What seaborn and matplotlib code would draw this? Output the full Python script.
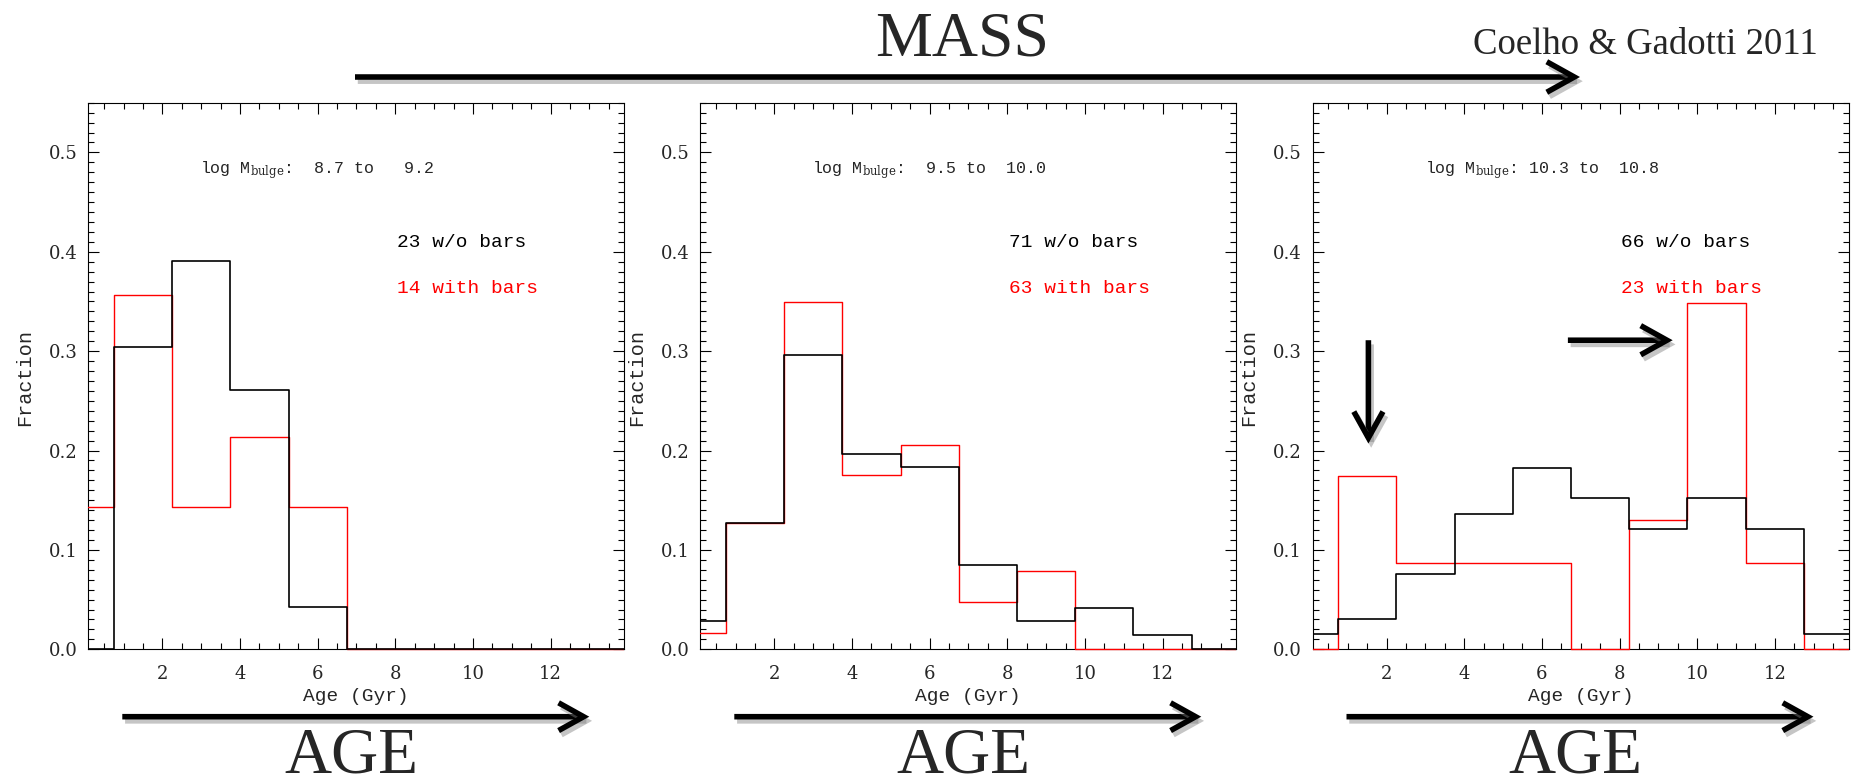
import numpy as np
import pandas as pd
import matplotlib
matplotlib.use("Agg")
import matplotlib.pyplot as plt
import matplotlib.patheffects as pe
from matplotlib.patches import FancyArrowPatch, ArrowStyle
from matplotlib.transforms import Bbox, TransformedBbox
from matplotlib.ticker import MultipleLocator, FormatStrFormatter
import seaborn as sns

# bin centres of the age histograms (Gyr), bin width 1.5
age_bins = [0.0, 1.5, 3.0, 4.5, 6.0, 7.5, 9.0, 10.5, 12.0, 13.5]

# fraction per age bin: bulges w/o bars (black) and with bars (red)
low_nobar = [0.0, 0.304, 0.391, 0.261, 0.043, 0.0, 0.0, 0.0, 0.0, 0.0]
low_bar = [0.143, 0.357, 0.143, 0.214, 0.143, 0.0, 0.0, 0.0, 0.0, 0.0]
mid_nobar = [0.028, 0.127, 0.296, 0.197, 0.183, 0.085, 0.028, 0.042, 0.014, 0.0]
mid_bar = [0.016, 0.127, 0.349, 0.175, 0.206, 0.048, 0.079, 0.0, 0.0, 0.0]
high_nobar = [0.015, 0.030, 0.076, 0.136, 0.182, 0.152, 0.121, 0.152, 0.121, 0.015]
high_bar = [0.0, 0.174, 0.087, 0.087, 0.087, 0.0, 0.130, 0.348, 0.087, 0.0]

# log bulge mass range of each panel and sample sizes
mass_lo = [8.7, 9.5, 10.3]
mass_hi = [9.2, 10.0, 10.8]
n_nobar = [23, 71, 66]
n_bar = [14, 63, 23]

nobar_fracs = [low_nobar, mid_nobar, high_nobar]
bar_fracs = [low_bar, mid_bar, high_bar]

sns.set_style("ticks")
plt.rcParams["font.family"] = ["DejaVu Serif"]
plt.rcParams["mathtext.fontset"] = "dejavuserif"

W, H = 1855, 779
fig = plt.figure(figsize=(W / 100, H / 100), dpi=100)

half = 0.75
edges = [c - half for c in age_bins] + [age_bins[-1] + half]

panel_left = [88.3, 700.3, 1312.5]  # pixel positions of the panel frames
ax_bottom, ax_h, ax_w = 129.7, 546.6, 536.0

mono = "Liberation Mono"
big = "Liberation Serif"
shadow = [pe.SimpleLineShadow(offset=(2, -3), shadow_color="gray", alpha=0.45), pe.Normal()]


def arrow(p0, p1, transform, ms=40):
    a = FancyArrowPatch(p0, p1, transform=transform,
                        arrowstyle=ArrowStyle("->", head_length=0.45, head_width=0.25),
                        mutation_scale=ms, lw=4, color="black",
                        shrinkA=0, shrinkB=0, capstyle="butt", joinstyle="miter",
                        clip_on=False, path_effects=shadow)
    return a


axes = []
for i in range(3):
    ax = fig.add_axes([panel_left[i] / W, ax_bottom / H, ax_w / W, ax_h / H])
    axes.append(ax)
    df = pd.DataFrame({"age": age_bins, "bar": bar_fracs[i], "nobar": nobar_fracs[i]})

    sns.histplot(data=df, x="age", weights="bar", bins=edges, element="step",
                 fill=False, color="red", linewidth=1.0, ax=ax)
    n_red = len(ax.lines)
    sns.histplot(data=df, x="age", weights="nobar", bins=edges, element="step",
                 fill=False, color="black", linewidth=1.2, ax=ax)

    # let zero-valued steps sit on top of the bottom frame line, black above red
    clip = TransformedBbox(Bbox([[0, -0.01], [1, 1.01]]), ax.transAxes)
    for k, ln in enumerate(ax.lines):
        ln.set_clip_box(clip)
        ln.set_zorder(3 if k < n_red else 3.5)

    ax.set_xlim(0.09, 13.9)
    ax.set_ylim(0, 0.55)
    ax.xaxis.set_major_locator(MultipleLocator(2))
    ax.xaxis.set_minor_locator(MultipleLocator(0.5))
    ax.yaxis.set_major_locator(MultipleLocator(0.1))
    ax.yaxis.set_minor_locator(MultipleLocator(0.01))
    ax.yaxis.set_major_formatter(FormatStrFormatter("%.1f"))
    ax.tick_params(which="both", direction="in", top=True, right=True, color="black")
    ax.tick_params(which="major", length=8, width=0.8, labelsize=13)
    ax.tick_params(which="minor", length=4, width=0.8)
    ax.tick_params(axis="x", pad=11)
    ax.tick_params(axis="y", pad=7.5)
    for s in ax.spines.values():
        s.set_linewidth(0.8)
        s.set_color("black")

    ax.set_xlabel("Age (Gyr)", family=mono, fontsize=14)
    ax.set_ylabel("Fraction", family=mono, fontsize=14.5)
    ax.xaxis.set_label_coords(0.5, -0.071)
    ax.yaxis.set_label_coords(-0.101, 0.497)

    ax.text(2.98, 0.479,
            f"log M$_{{\\mathrm{{bulge}}}}$:{mass_lo[i]:5.1f} to {mass_hi[i]:5.1f}",
            family=mono, fontsize=12)
    ax.text(8.04, 0.4045, f"{n_nobar[i]} w/o bars", family=mono, fontsize=14, color="black")
    ax.text(8.04, 0.359, f"{n_bar[i]} with bars", family=mono, fontsize=14, color="red")

    # AGE arrow and label below each panel
    ax.add_artist(arrow((34 / ax_w, -0.1233), (1 - 35 / ax_w, -0.1233), ax.transAxes))
    ax.text(0.49, -0.226, "AGE", transform=ax.transAxes, ha="center", va="baseline",
            family=big, fontsize=47)

# arrows pointing at the features of the most massive bin
ax3 = axes[2]
ax3.add_artist(arrow((1.53, 0.311), (1.53, 0.207), ax3.transData, ms=42))
ax3.add_artist(arrow((6.67, 0.311), (9.37, 0.311), ax3.transData, ms=42))

# MASS arrow across the top
fig.add_artist(arrow((355 / W, 1 - 77 / H), (1580 / W, 1 - 77 / H), fig.transFigure, ms=44))
fig.text(962 / W, 1 - 56 / H, "MASS", ha="center", va="baseline", family=big, fontsize=46)
fig.text(1818 / W, 1 - 54 / H, "Coelho & Gadotti 2011", ha="right", va="baseline",
         family=big, fontsize=26.5)

fig.savefig("out.png", dpi=100)
